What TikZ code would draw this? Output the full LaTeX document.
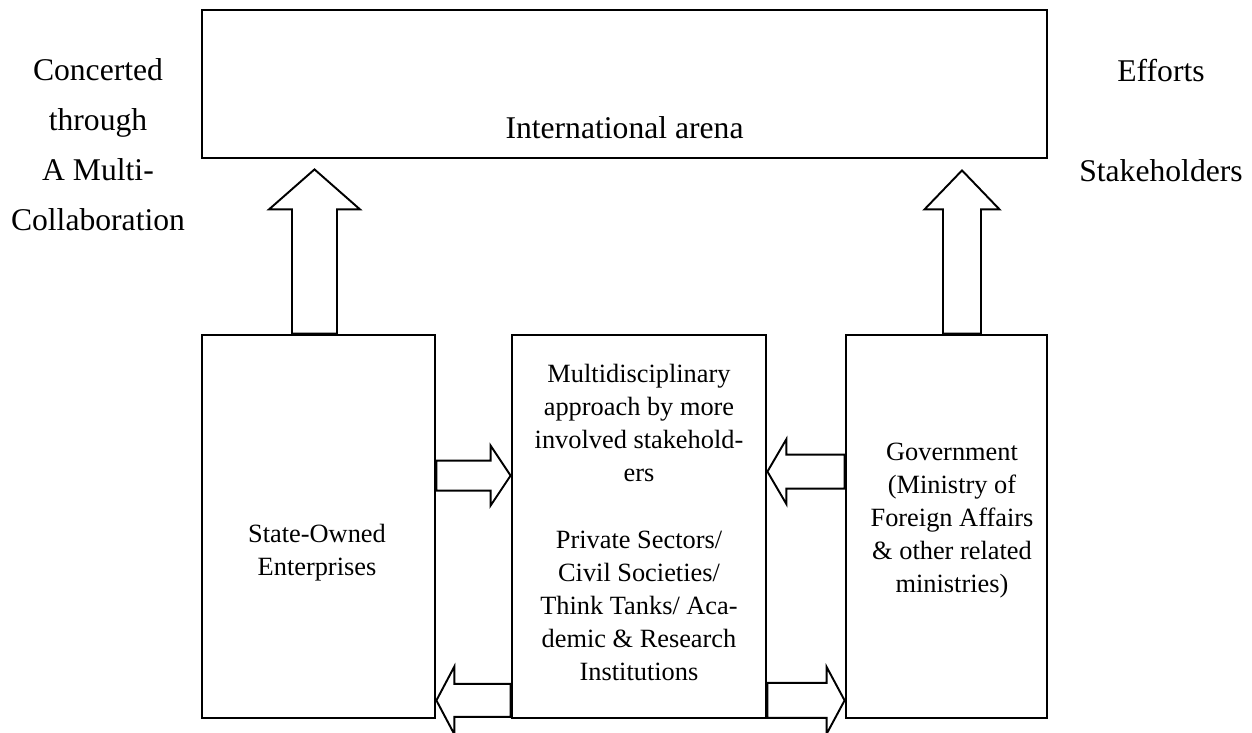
\documentclass[tikz,border=0pt]{standalone}
\usepackage{fontspec}
\setmainfont{Liberation Serif}
\usetikzlibrary{calc}
\def\fatarrow[#1](#2)(#3)(#4:#5:#6){\coordinate (fa-h) at ($(#3)!#6!(#2)$);
	\draw[#1] ($(#2)!#4!90:(#3)$) -- ($(fa-h)!#4!90:(#3)$) -- ($(fa-h)!#5!90:(#3)$) -- (#3) -- ($(fa-h)!#5!-90:(#3)$) -- ($(fa-h)!#4!-90:(#3)$) -- ($(#2)!#4!-90:(#3)$) -- cycle;}
\tikzset{
	box/.style={draw, line width=1.6pt, inner sep=0pt},
	blk/.style={line width=1.1pt, line join=miter},
	bigtxt/.style={font=\fontsize{18}{28.45}\selectfont, align=center, inner sep=0pt},
	smalltxt/.style={font=\fontsize{15}{18.8}\selectfont, align=center, inner sep=0pt}
}
\begin{document}
\begin{tikzpicture}
			%%%%% START %%%%%
			\useasboundingbox (0,0) rectangle (25.04,-14.64);
			
			\node[box, minimum width=16.9cm, minimum height=2.96cm] (arena) at (12.49,-1.68) {};
			\node[bigtxt, anchor=base] (arena-txt) at ($(arena.south)+(0,0.42)$) {International arena};
			
			\node[bigtxt, anchor=north] (left-txt) at (1.96,-1.17) {Concerted\\through\\A Multi-\\Collaboration};
			\node[bigtxt, anchor=north] (right-txt) at (23.22,-1.17) {Efforts\\[1cm]Stakeholders};
			
			\node[box, minimum width=4.66cm, minimum height=7.66cm] (soe) at (6.37,-10.53) {};
			\node[box, minimum width=5.08cm, minimum height=7.66cm] (multi) at (12.78,-10.53) {};
			\node[box, minimum width=4.02cm, minimum height=7.66cm] (gov) at (18.93,-10.53) {};
			
			\node[smalltxt] (soe-txt) at ($(soe)+(-0.03,-0.52)$) {State-Owned\\Enterprises};
			\node[smalltxt] (multi-txt) at ($(multi)+(0,0.08)$) {Multidisciplinary\\approach by more\\involved stakehold-\\ers\\[0.66cm]Private Sectors/\\Civil Societies/\\Think Tanks/ Aca-\\demic \& Research\\Institutions};
			\node[smalltxt] (gov-txt) at ($(gov)+(0.11,0.12)$) {Government\\(Ministry of\\Foreign Affairs\\\& other related\\ministries)};
			
			% up to the arena
			\coordinate (up-l0) at ($(soe.north)+(-0.08,0)$);
			\coordinate (up-l1) at ($(arena.south -| up-l0)+(0,-0.2)$);
			\fatarrow[blk](up-l0)(up-l1)(0.45cm:0.91cm:0.8cm)
			\coordinate (up-r0) at ($(gov.north)+(0.31,0)$);
			\coordinate (up-r1) at ($(arena.south -| up-r0)+(0,-0.22)$);
			\fatarrow[blk](up-r0)(up-r1)(0.38cm:0.75cm:0.78cm)
			
			% between the boxes
			\coordinate (h1s) at ($(soe.north east)+(0,-2.84)$);
			\coordinate (h1e) at (h1s -| multi.west);
			\fatarrow[blk](h1s)(h1e)(0.3cm:0.6cm:0.4cm)
			\coordinate (h2s) at ($(multi.south west)+(0,0.38)$);
			\coordinate (h2e) at (h2s -| soe.east);
			\fatarrow[blk](h2s)(h2e)(0.33cm:0.68cm:0.36cm)
			\coordinate (h3s) at ($(gov.north west)+(0,-2.76)$);
			\coordinate (h3e) at (h3s -| multi.east);
			\fatarrow[blk](h3s)(h3e)(0.34cm:0.65cm:0.38cm)
			\coordinate (h4s) at ($(multi.south east)+(0,0.38)$);
			\coordinate (h4e) at (h4s -| gov.west);
			\fatarrow[blk](h4s)(h4e)(0.35cm:0.67cm:0.36cm)
			
			%%%%% END %%%%%
\end{tikzpicture}
\end{document}
